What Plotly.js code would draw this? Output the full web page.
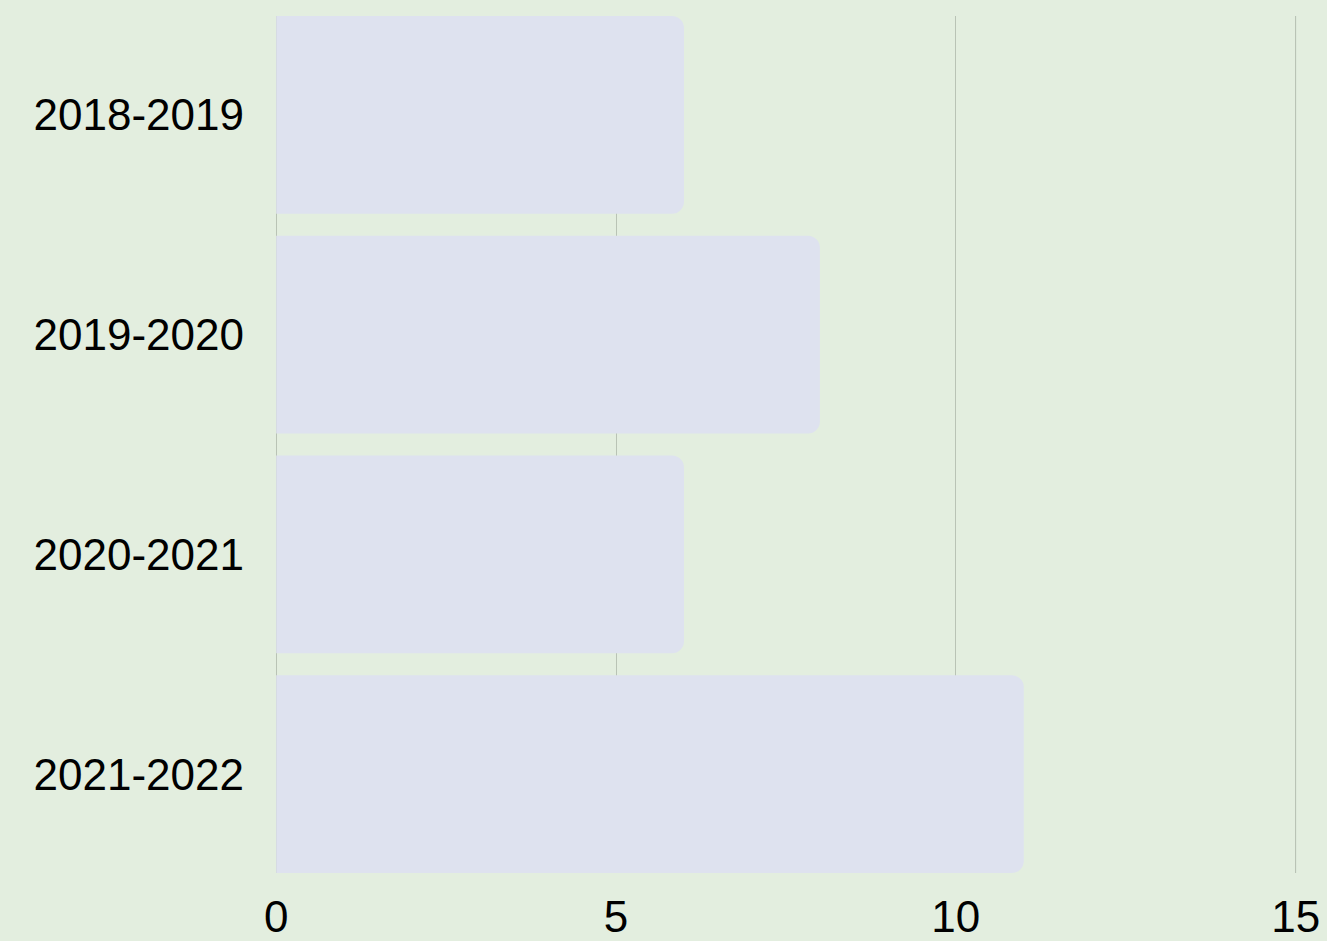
<!DOCTYPE html>
<html>
<head>
<meta charset="utf-8">
<script src="https://cdn.plot.ly/plotly-3.0.1.min.js"></script>
<style>
html,body{margin:0;padding:0;background:#e3eedf;}
#chart{width:1327px;height:941px;}
</style>
</head>
<body>
<div id="chart"></div>
<script>
const categories = ["2018-2019", "2019-2020", "2020-2021", "2021-2022"];
const values = [6, 8, 6, 11];
const xTicks = [0, 5, 10, 15];

const trace = {
  type: 'bar',
  orientation: 'h',
  x: values,
  y: categories,
  marker: {color: '#dee2ef', cornerradius: 12, line: {width: 0}},
  hoverinfo: 'x+y'
};

const gridColor = '#b9c3b5';

const layout = {
  width: 1327,
  height: 941,
  paper_bgcolor: '#e3eedf',
  plot_bgcolor: '#e3eedf',
  margin: {l: 276, r: 30, t: 16, b: 68, pad: 0},
  bargap: 0.1,
  showlegend: false,
  font: {family: 'Liberation Sans, Arial, sans-serif', size: 44, color: '#000000'},
  xaxis: {
    range: [-0.003, 15.02],
    tickvals: xTicks,
    ticktext: xTicks.map(String),
    showgrid: true,
    gridcolor: gridColor,
    gridwidth: 1,
    zeroline: true,
    zerolinecolor: gridColor,
    zerolinewidth: 1,
    showline: false,
    ticks: '',
    ticklabelstandoff: 14,
    tickfont: {size: 44, color: '#000000'}
  },
  yaxis: {
    type: 'category',
    range: [3.45, -0.45],
    showgrid: false,
    zeroline: false,
    showline: false,
    ticks: '',
    ticklabelstandoff: 31,
    tickfont: {size: 44, color: '#000000'}
  },
  shapes: [{
    type: 'line', layer: 'below',
    xref: 'x', yref: 'paper',
    x0: xTicks[xTicks.length - 1], x1: xTicks[xTicks.length - 1],
    y0: 0, y1: 1,
    line: {color: gridColor, width: 1}
  }]
};

Plotly.newPlot('chart', [trace], layout, {displayModeBar: false, staticPlot: true});
</script>
</body>
</html>
